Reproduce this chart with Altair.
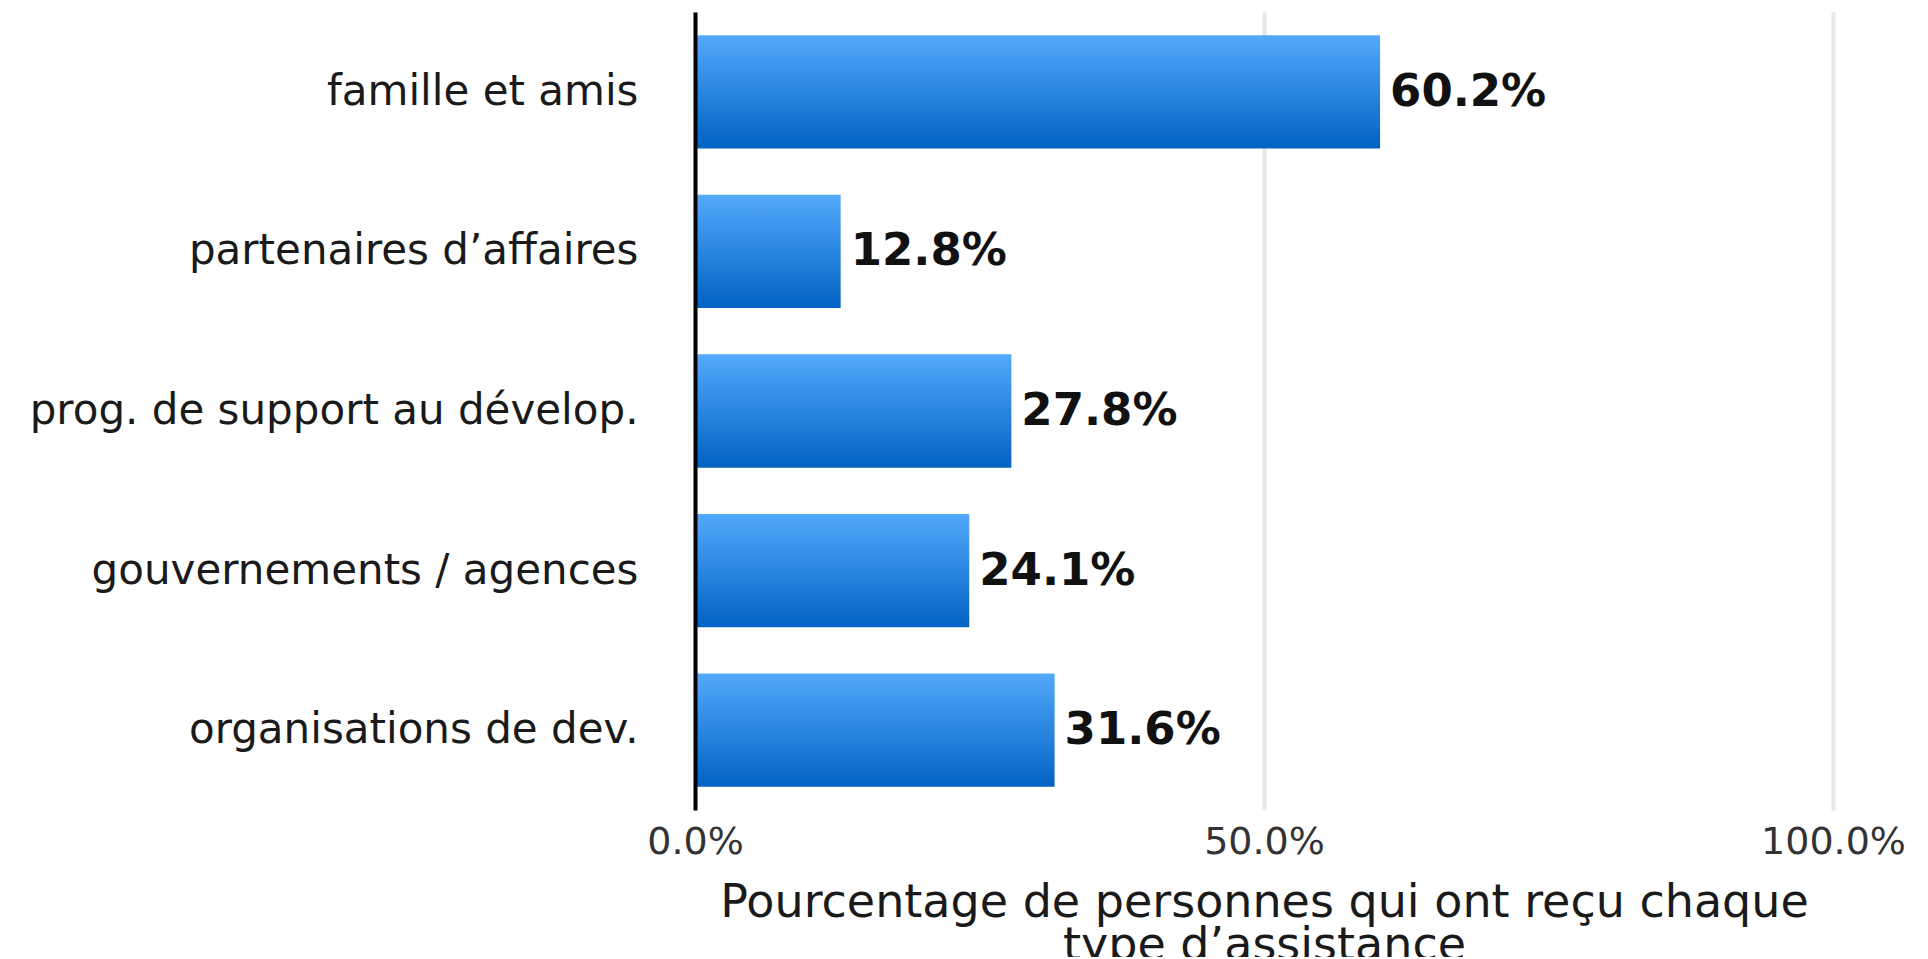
import altair as alt
import pandas as pd

categories = [
    "famille et amis",
    "partenaires d’affaires",
    "prog. de support au dévelop.",
    "gouvernements / agences",
    "organisations de dev.",
]
values = [60.2, 12.8, 27.8, 24.1, 31.6]
x_ticks = [0, 50, 100]
x_title = ["Pourcentage de personnes qui ont reçu chaque", "type d’assistance"]

df = pd.DataFrame({"cat": categories, "val": values})

FONT = "DejaVu Sans"

x_enc = alt.X(
    "val:Q",
    scale=alt.Scale(domain=[0, 100], nice=False, zero=True),
    axis=alt.Axis(
        values=x_ticks,
        labelExpr="format(datum.value, '.1f') + '%'",
        labelFont=FONT,
        labelFontSize=38,
        labelColor="#333333",
        labelPadding=13,
        labelFlush=False,
        labelAlign="center",
        ticks=False,
        tickSize=0,
        domain=False,
        grid=True,
        gridColor="#e6e6e6",
        gridWidth=4,
        title=x_title,
        titleFont=FONT,
        titleFontSize=46,
        titleFontWeight="normal",
        titleColor="#1a1a1a",
        titleBaseline="alphabetic",
        titleY=106,
        titleLineHeight=43,
    ),
)

y_enc = alt.Y(
    "cat:N",
    sort=None,
    scale=alt.Scale(paddingInner=0.29, paddingOuter=0.145),
    axis=alt.Axis(
        title=None,
        labelFont=FONT,
        labelFontSize=42,
        labelColor="#1a1a1a",
        labelPadding=57,
        ticks=False,
        tickSize=0,
        domain=True,
        domainColor="#000000",
        domainWidth=4,
        grid=False,
        zindex=2,
        labelLimit=800,
    ),
)

bars = alt.Chart(df).mark_bar(
    color=alt.Gradient(
        gradient="linear",
        x1=0, y1=0, x2=0, y2=1,
        stops=[
            alt.GradientStop(offset=0, color="#53a9fb"),
            alt.GradientStop(offset=1, color="#0262c3"),
        ],
    )
).encode(x=x_enc, y=y_enc)

labels = alt.Chart(df).transform_calculate(
    lbl="format(datum.val, '.1f') + '%'"
).mark_text(
    align="left",
    baseline="middle",
    dx=10,
    font=FONT,
    fontSize=45,
    fontWeight="bold",
    color="#111111",
).encode(
    x=alt.X("val:Q", scale=alt.Scale(domain=[0, 100], nice=False, zero=True)),
    y=alt.Y("cat:N", sort=None),
    text="lbl:N",
)

chart = (
    alt.layer(bars, labels)
    .properties(
        width=1138,
        height=798,
        autosize=alt.AutoSizeParams(type="none"),
        padding={"left": 687, "top": 4, "right": 80, "bottom": 147},
        background="white",
    )
    .configure_view(stroke=None)
)

chart.save("out.html", embed_options={"renderer": "svg", "actions": False})
